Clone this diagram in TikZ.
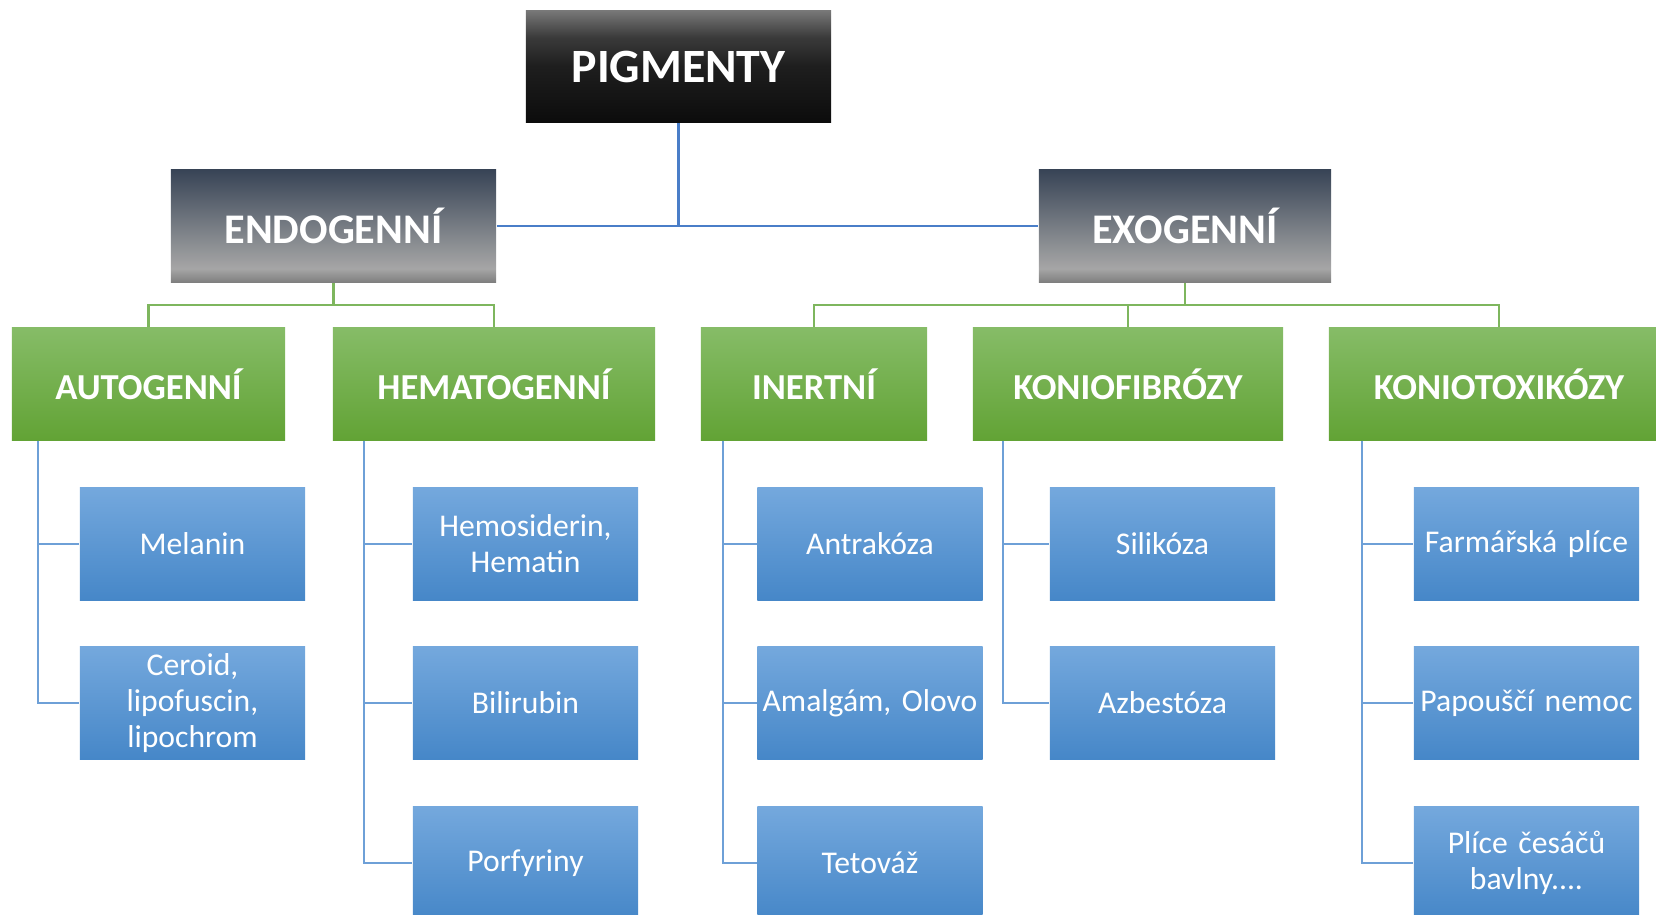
\documentclass[tikz,border=0pt]{standalone}
\usepackage{fontspec}
\setmainfont{Carlito}
\usetikzlibrary{positioning}
\definecolor{pigA}{RGB}{120,120,120}
\definecolor{pigB}{RGB}{58,58,58}
\definecolor{pigC}{RGB}{30,30,30}
\definecolor{pigD}{RGB}{12,12,12}
\definecolor{sideA}{RGB}{56,68,86}
\definecolor{sideC}{RGB}{166,166,166}
\definecolor{sideD}{RGB}{127,127,127}
\definecolor{kindT}{RGB}{134,188,103}
\definecolor{kindB}{RGB}{98,163,53}
\definecolor{itemT}{RGB}{116,168,221}
\definecolor{itemM}{RGB}{90,154,216}
\definecolor{itemB}{RGB}{70,135,200}
\definecolor{linkblue}{RGB}{74,126,200}
\definecolor{linkgreen}{RGB}{126,182,94}
\definecolor{linkitem}{RGB}{110,160,215}
\pgfdeclareverticalshading{pigshade}{100bp}{color(0bp)=(pigD); color(25bp)=(pigD); color(50bp)=(pigC); color(63bp)=(pigB); color(75bp)=(pigA); color(100bp)=(pigA)}
\pgfdeclareverticalshading{sideshade}{100bp}{color(0bp)=(sideD); color(25bp)=(sideD); color(31bp)=(sideC); color(75bp)=(sideA); color(100bp)=(sideA)}
\tikzset{
    rootbox/.style={shade,shading=pigshade,text=white,inner sep=0pt,
        minimum width=3.05cm,minimum height=1.12cm,
        font=\bfseries\fontsize{13.6}{16}\selectfont},
    sidebox/.style={shade,shading=sideshade,text=white,inner sep=0pt,
        minimum height=1.12cm,font=\bfseries\fontsize{12}{14}\selectfont},
    kindbox/.style={top color=kindT,bottom color=kindB,text=white,inner sep=0pt,
        minimum height=1.12cm,font=\bfseries\fontsize{10.4}{12}\selectfont},
    itembox/.style={top color=itemT,middle color=itemM,bottom color=itemB,text=white,
        inner sep=0pt,text width=2.2cm,align=center,minimum width=2.25cm,
        minimum height=1.12cm,font=\fontsize{9}{10.3}\selectfont},
    toplink/.style={draw=linkblue,line width=0.7pt},
    kindlink/.style={draw=linkgreen,line width=0.6pt},
    itemlink/.style={draw=linkitem,line width=0.6pt}
}
\begin{document}
\begin{tikzpicture}[x=0.01cm,y=-0.01cm]
\useasboundingbox (0,0) rectangle (1656,915);
% top level
\node[rootbox] (pig) at (678.5,66.5) {PIGMENTY};
\node[sidebox,minimum width=3.25cm] (endo) at (333.5,226) {ENDOGENNÍ};
\node[sidebox,minimum width=2.92cm] (exo) at (1185,226) {EXOGENNÍ};
\draw[toplink] (pig.south) -- (pig.south |- endo.east);
\draw[toplink] (endo.east) -- (exo.west);
% groups
\node[kindbox,minimum width=2.73cm] (auto) at (148.5,384) {AUTOGENNÍ};
\node[kindbox,minimum width=3.22cm] (hema) at (494,384) {HEMATOGENNÍ};
\node[kindbox,minimum width=2.26cm] (inert) at (814,384) {INERTNÍ};
\node[kindbox,minimum width=3.10cm] (fib) at (1128,384) {KONIOFIBRÓZY};
\node[kindbox,minimum width=3.40cm] (tox) at (1499,384) {KONIOTOXIKÓZY};
\coordinate (endoJ) at (333.5,305);
\coordinate (exoJ) at (1185,305);
\draw[kindlink] (endo.south) -- (endoJ) -| (auto.north);
\draw[kindlink] (endoJ) -| (hema.north);
\draw[kindlink] (exo.south) -- (exoJ) -| (inert.north);
\draw[kindlink] (exoJ) -| (fib.north);
\draw[kindlink] (exoJ) -| (tox.north);
% items
\node[itembox] (mel) at (192.5,544) {Melanin};
\node[itembox] (cer) at (192.5,703) {Ceroid,\\lipofuscin,\\lipochrom};
\node[itembox] (hemo) at (525.5,544) {Hemosiderin,\\Hematin};
\node[itembox] (bili) at (525.5,703) {Bilirubin};
\node[itembox] (porf) at (525.5,863) {Porfyriny};
\node[itembox] (antr) at (870,544) {Antrakóza};
\node[itembox] (amal) at (870,703) {Amalgám, Olovo};
\node[itembox] (teto) at (870,863) {Tetováž};
\node[itembox] (sili) at (1162.5,544) {Silikóza};
\node[itembox] (azbe) at (1162.5,703) {Azbestóza};
\node[itembox] (farm) at (1526.5,544) {Farmářská plíce};
\node[itembox] (papo) at (1526.5,703) {Papouščí nemoc};
\node[itembox] (bavl) at (1526.5,863) {Plíce česáčů\\bavlny....};
\draw[itemlink] ([xshift=0.27cm]auto.south west) |- (mel.west);
\draw[itemlink] ([xshift=0.27cm]auto.south west) |- (cer.west);
\draw[itemlink] ([xshift=0.32cm]hema.south west) |- (hemo.west);
\draw[itemlink] ([xshift=0.32cm]hema.south west) |- (bili.west);
\draw[itemlink] ([xshift=0.32cm]hema.south west) |- (porf.west);
\draw[itemlink] ([xshift=0.23cm]inert.south west) |- (antr.west);
\draw[itemlink] ([xshift=0.23cm]inert.south west) |- (amal.west);
\draw[itemlink] ([xshift=0.23cm]inert.south west) |- (teto.west);
\draw[itemlink] ([xshift=0.31cm]fib.south west) |- (sili.west);
\draw[itemlink] ([xshift=0.31cm]fib.south west) |- (azbe.west);
\draw[itemlink] ([xshift=0.34cm]tox.south west) |- (farm.west);
\draw[itemlink] ([xshift=0.34cm]tox.south west) |- (papo.west);
\draw[itemlink] ([xshift=0.34cm]tox.south west) |- (bavl.west);
\end{tikzpicture}
\end{document}
